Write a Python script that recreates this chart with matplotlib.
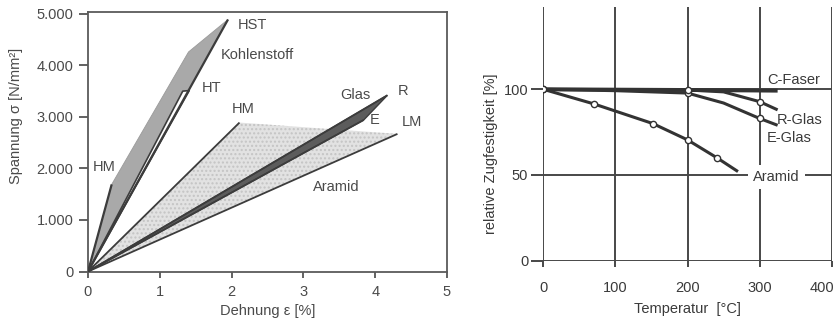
import matplotlib
matplotlib.use("Agg")
import matplotlib.pyplot as plt
from matplotlib.patches import Polygon
from matplotlib.transforms import ScaledTranslation

plt.rcParams['font.family'] = ['Liberation Sans', 'DejaVu Sans']
plt.rcParams['hatch.linewidth'] = 1.0

# ---------------- data: left chart (stress-strain) ----------------
carbon_x = [0.0, 0.33, 1.40, 1.95]          # Dehnung [%]
carbon_y = [0, 1690, 4260, 4890]            # Spannung [N/mm²]
carbon_hm = (0.33, 1690)
carbon_hst = (1.95, 4890)
ht_x = [0.0, 1.32, 1.41]
ht_y = [0, 3500, 3510]
glass_r = (4.17, 3420)
glass_e = (3.84, 2940)
aramid_hm = (2.11, 2890)
aramid_lm = (4.31, 2670)

left_labels = ["HST", "Kohlenstoff", "HT", "HM", "HM", "Glas", "R", "E", "LM", "Aramid"]
left_label_x = [2.09, 1.85, 1.58, 2.00, 0.07, 3.51, 4.32, 3.93, 4.37, 3.14]
left_label_y = [4780, 4200, 3570, 3160, 2030, 3420, 3500, 2940, 2900, 1630]

left_yticks = [0, 1000, 2000, 3000, 4000, 5000]
left_yticklabels = ["0", "1.000", "2.000", "3.000", "4.000", "5.000"]
left_xticks = [0, 1, 2, 3, 4, 5]

# ---------------- data: right chart (temperature) ----------------
cf_t = [0, 200, 325]
cf_v = [100, 99.6, 99.2]
rg_t = [0, 200, 250, 300, 325]
rg_v = [100, 99.6, 98.5, 92.8, 88]
eg_t = [0, 100, 200, 250, 300, 325]
eg_v = [100, 99.2, 97.8, 92, 83, 79]
ar_t = [0, 70, 152, 200, 241, 270]
ar_v = [100, 91.5, 80, 70.5, 60, 52]

right_labels = ["C-Faser", "R-Glas", "E-Glas", "Aramid"]
right_label_x = [310, 324, 310, 291]
right_label_y = [105.4, 82.1, 71.4, 49]
right_xticks = [0, 100, 200, 300, 400]
right_yticks = [0, 50, 100]

# ---------------- figure ----------------
fig = plt.figure(figsize=(8.4, 3.2), dpi=100)

txt_l = '#4a4a4a'
line_c = '#3c3c3c'

# Left axes: px left 88, right 447, top 11.5, bottom 271.5
axL = fig.add_axes([88/840, 1-271.5/320, (447-88)/840, 260/320])
axL.set_xlim(0, 5)
axL.set_ylim(0, 5045)

# Aramid (light stippled triangle)
axL.add_patch(Polygon([(0, 0), aramid_hm, aramid_lm], closed=True,
                      facecolor='#e2e2e2', edgecolor='#c4c4c4', hatch='....',
                      linewidth=0, zorder=1))
# Carbon (medium gray)
axL.add_patch(Polygon(list(zip(carbon_x, carbon_y)), closed=True,
                      facecolor='#a9a9a9', edgecolor='#9a9a9a', linewidth=0.6, zorder=2))
# HT band (white, outlined)
axL.add_patch(Polygon(list(zip(ht_x, ht_y)), closed=True,
                      facecolor='white', edgecolor=line_c, linewidth=1.2,
                      joinstyle='round', zorder=4))
# Glass band (dark)
axL.add_patch(Polygon([(0, 0), glass_r, glass_e], closed=True,
                      facecolor='#5c5c5c', edgecolor=line_c, linewidth=1.0, zorder=3))

for pt, lw in [(carbon_hm, 1.6), (carbon_hst, 1.6), (aramid_hm, 1.3), (aramid_lm, 1.3),
               (glass_r, 1.3), (glass_e, 1.3)]:
    axL.plot([0, pt[0]], [0, pt[1]], color=line_c, lw=lw, zorder=5,
             solid_capstyle='butt')

for s, x, y in zip(left_labels, left_label_x, left_label_y):
    axL.text(x, y, s, ha='left', va='center', fontsize=10.5, color=txt_l, zorder=6)

axL.set_yticks(left_yticks)
axL.set_yticklabels(left_yticklabels)
axL.set_xticks(left_xticks)
axL.tick_params(axis='both', direction='out', colors='#555555', labelcolor=txt_l,
                labelsize=10.5, width=1.3)
axL.tick_params(axis='y', length=6.5, pad=4)
axL.tick_params(axis='x', length=4, pad=6)
for sp in axL.spines.values():
    sp.set_color('#5a5a5a')
    sp.set_linewidth(1.3)
axL.set_xlabel("Dehnung ε [%]", fontsize=10.5, color=txt_l, labelpad=3)
axL.set_ylabel("Spannung σ [N/mm²]", fontsize=10.5, color=txt_l)
axL.yaxis.set_label_coords((23.5-88)/359, 0.60)

# Right axes: x 0 at px 543.3, 400 at 831.7 ; y 0 at 260.7, 100 at 89.3
y_top = 148
axR = fig.add_axes([543.3/840, 1-260.7/320, (831.7-543.3)/840, y_top*1.714/320])
axR.set_xlim(0, 400)
axR.set_ylim(0, y_top)
for sp in axR.spines.values():
    sp.set_visible(False)
axR.set_xticks(right_xticks)
axR.set_yticks(right_yticks)
axR.grid(True, color='#474747', lw=1.4)
axR.set_axisbelow(True)
txt_r = '#3a3a3a'
axR.tick_params(axis='both', colors='#474747', labelcolor=txt_r, labelsize=10.5, width=1.4)
axR.tick_params(axis='y', length=8.3, pad=2.5)
axR.tick_params(axis='x', length=4.3, pad=10)
last = axR.get_xticklabels()[-1]
last.set_transform(last.get_transform() + ScaledTranslation(-7/72, 0, fig.dpi_scale_trans))

cl = '#333333'
axR.plot(cf_t, cf_v, color=cl, lw=2.8, zorder=3, solid_capstyle='butt')
axR.plot(rg_t, rg_v, color=cl, lw=2.2, zorder=3, marker='o', markevery=[3],
         ms=4.5, mfc='white', mec=cl, mew=1.0, solid_capstyle='butt')
axR.plot(eg_t, eg_v, color=cl, lw=2.2, zorder=3, marker='o', markevery=[2, 4],
         ms=4.5, mfc='white', mec=cl, mew=1.0, solid_capstyle='butt')
axR.plot(cf_t[:2], cf_v[:2], color=cl, lw=0, zorder=4, marker='o', markevery=[0, 1],
         ms=4.5, mfc='white', mec=cl, mew=1.0)
axR.plot(ar_t, ar_v, color=cl, lw=2.2, zorder=3, marker='o', markevery=[0, 1, 2, 3, 4],
         ms=4.5, mfc='white', mec=cl, mew=1.0, solid_capstyle='butt')

for s, x, y in zip(right_labels, right_label_x, right_label_y):
    kw = {}
    if s == "Aramid":
        kw['bbox'] = dict(facecolor='white', edgecolor='none', pad=3.5)
    axR.text(x, y, s, ha='left', va='center', fontsize=10.5, color=txt_r, zorder=5, **kw)

axR.set_xlabel("Temperatur  [°C]", fontsize=10.5, color=txt_r, labelpad=5)
axR.set_ylabel("relative Zugfestigkeit [%]", fontsize=10.5, color=txt_r)
axR.yaxis.set_label_coords((498-543.3)/288.4, (260.7-153.3)/(y_top*1.714))

fig.savefig("out.png", dpi=100)
